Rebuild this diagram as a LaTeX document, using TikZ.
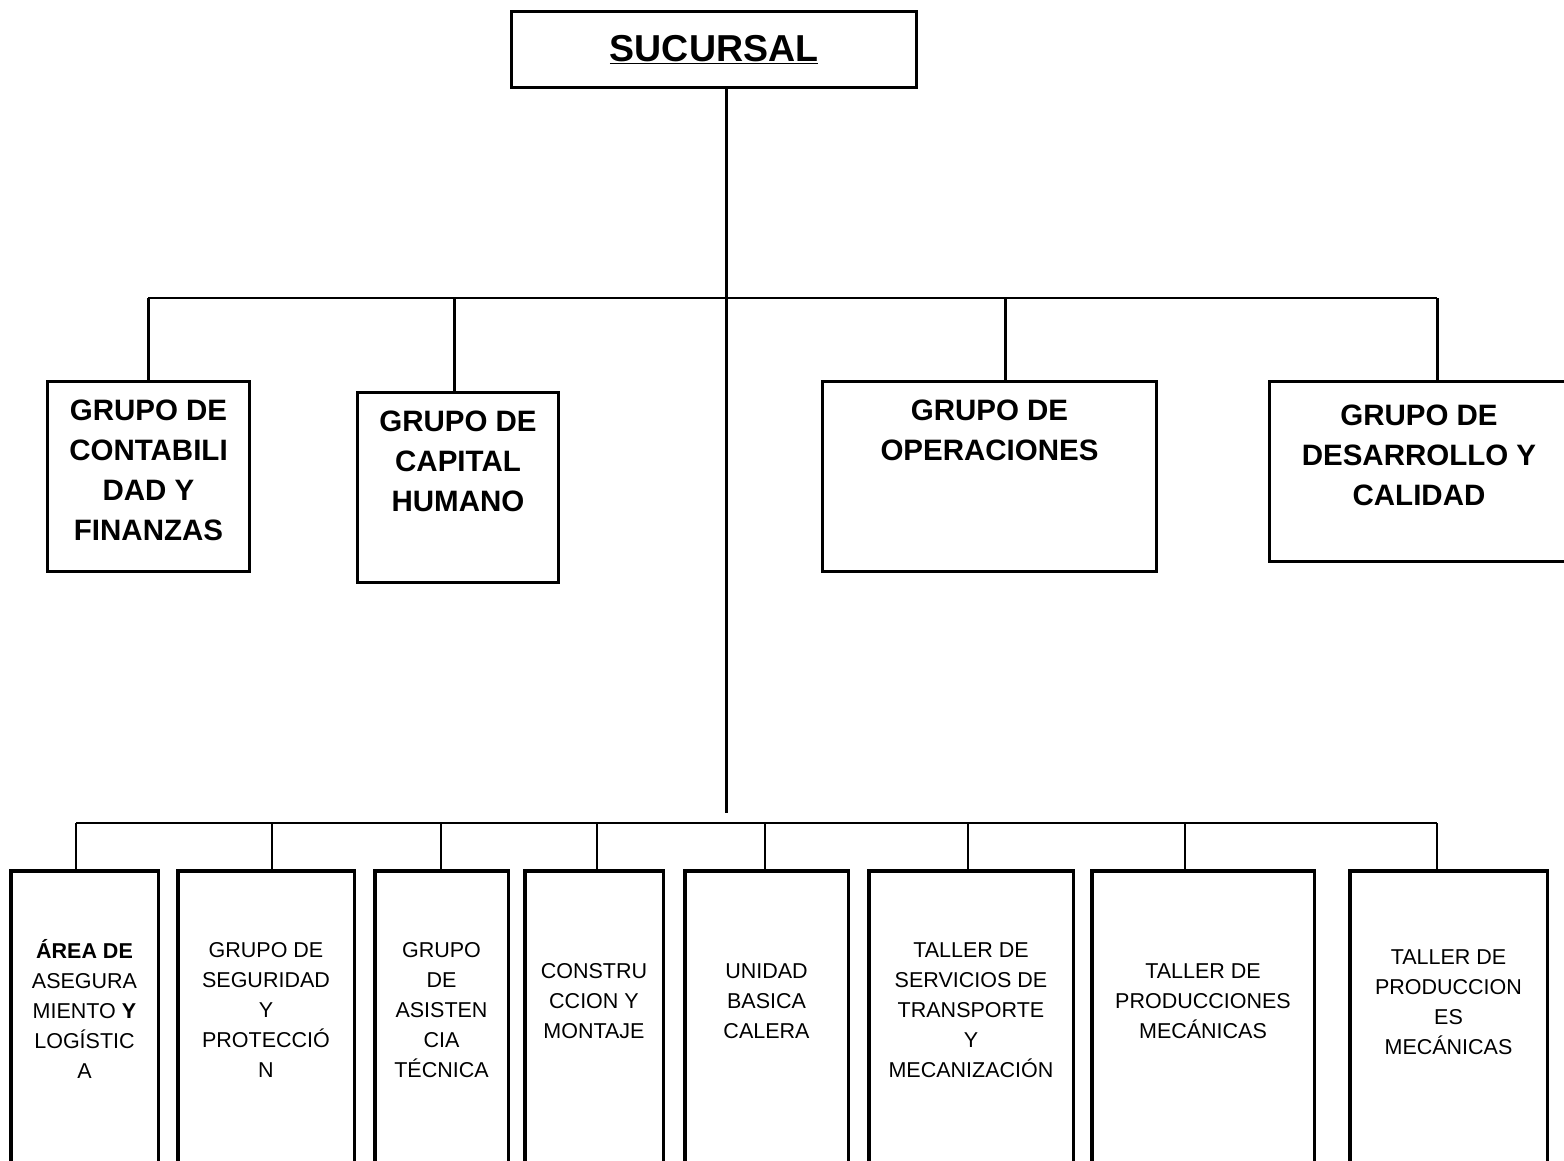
\documentclass[tikz,border=0pt]{standalone}
\usepackage{fontspec}
\setmainfont{Liberation Sans}
\tikzset{
	caja/.style={draw, line width=3pt, inner sep=0pt},
	cajab/.style={draw, line width=3.5pt, inner sep=0pt},
	rotulo/.style={anchor=north, align=center, inner sep=0pt, font=\fontsize{29.5}{40}\selectfont\bfseries},
	rotulob/.style={anchor=north, align=center, inner sep=0pt, font=\fontsize{21.5}{30}\selectfont}
}
\begin{document}
\begin{tikzpicture}[x=1pt, y=-1pt]
	\useasboundingbox (0,0) rectangle (1564,1160);
	\clip (0,0) rectangle (1564,1160);
	\path
	(726,813) coordinate (T)
	(148,298) coordinate (A)
	(1437,298) coordinate (B)
	(76,823) coordinate (C)
	(1437,823) coordinate (D)
	;
	\node[caja, minimum width=405, minimum height=76, font=\fontsize{37.5}{40}\selectfont\bfseries] (suc) at (714,49.5) {\underline{SUCURSAL}};
	\draw[line width=3pt] (T |- suc.south) -- (T);
	\draw[line width=1.5pt] (A) -- (B);
	\draw[line width=2pt] (C) -- (D);
	% grupos
	\foreach \n/\cx/\cy/\w/\h/\dx/\ty/\txt in {
		contab/148.5/476.5/202/190/148/399.5/{GRUPO DE\\CONTABILI\\DAD Y\\FINANZAS},
		capital/458/487.5/201/190/454/410.5/{GRUPO DE\\CAPITAL\\HUMANO},
		oper/989.5/476.5/334/190/1005/399.5/{GRUPO DE\\OPERACIONES},
		desarr/1419/471.5/299/180/1437/404.5/{GRUPO DE\\DESARROLLO Y\\CALIDAD}}
	{
		\node[caja, minimum width=\w, minimum height=\h] (\n) at (\cx,\cy) {};
		\node[rotulo] (\n-t) at (\cx,\ty) {\txt};
		\coordinate (\n-a) at (\dx,298);
		\draw[line width=3pt] (\n-a) -- (\n-a |- \n.north);
	}
	% areas
	\foreach \n/\cx/\w/\dx/\ty/\txt in {
		b1/84.5/147.5/76/939/{\textbf{ÁREA DE}\\ASEGURA\\MIENTO \textbf{Y}\\LOGÍSTIC\\A},
		b2/266/176.5/272/942.3/{GRUPO DE\\SEGURIDAD\\Y\\PROTECCIÓ\\N},
		b3/441.5/133.5/441/942.3/{GRUPO\\DE\\ASISTEN\\CIA\\TÉCNICA},
		b4/594/138.5/597/963.3/{CONSTRU\\CCION Y\\MONTAJE},
		b5/766.5/163.5/765/963.3/{UNIDAD\\BASICA\\CALERA},
		b6/971/204.5/968/942.3/{TALLER DE\\SERVICIOS DE\\TRANSPORTE\\Y\\MECANIZACIÓN},
		b7/1203/222.5/1185/963.3/{TALLER DE\\PRODUCCIONES\\MECÁNICAS},
		b8/1448.5/197.5/1437/949.3/{TALLER DE\\PRODUCCION\\ES\\MECÁNICAS}}
	{
		\node[cajab, minimum width=\w, minimum height=327.5] (\n) at (\cx,1034.5) {};
		\node[rotulob] (\n-t) at (\cx,\ty) {\txt};
		\coordinate (\n-a) at (\dx,823);
		\draw[line width=1.5pt] (\n-a) -- (\n-a |- \n.north);
	}
\end{tikzpicture}
\end{document}
